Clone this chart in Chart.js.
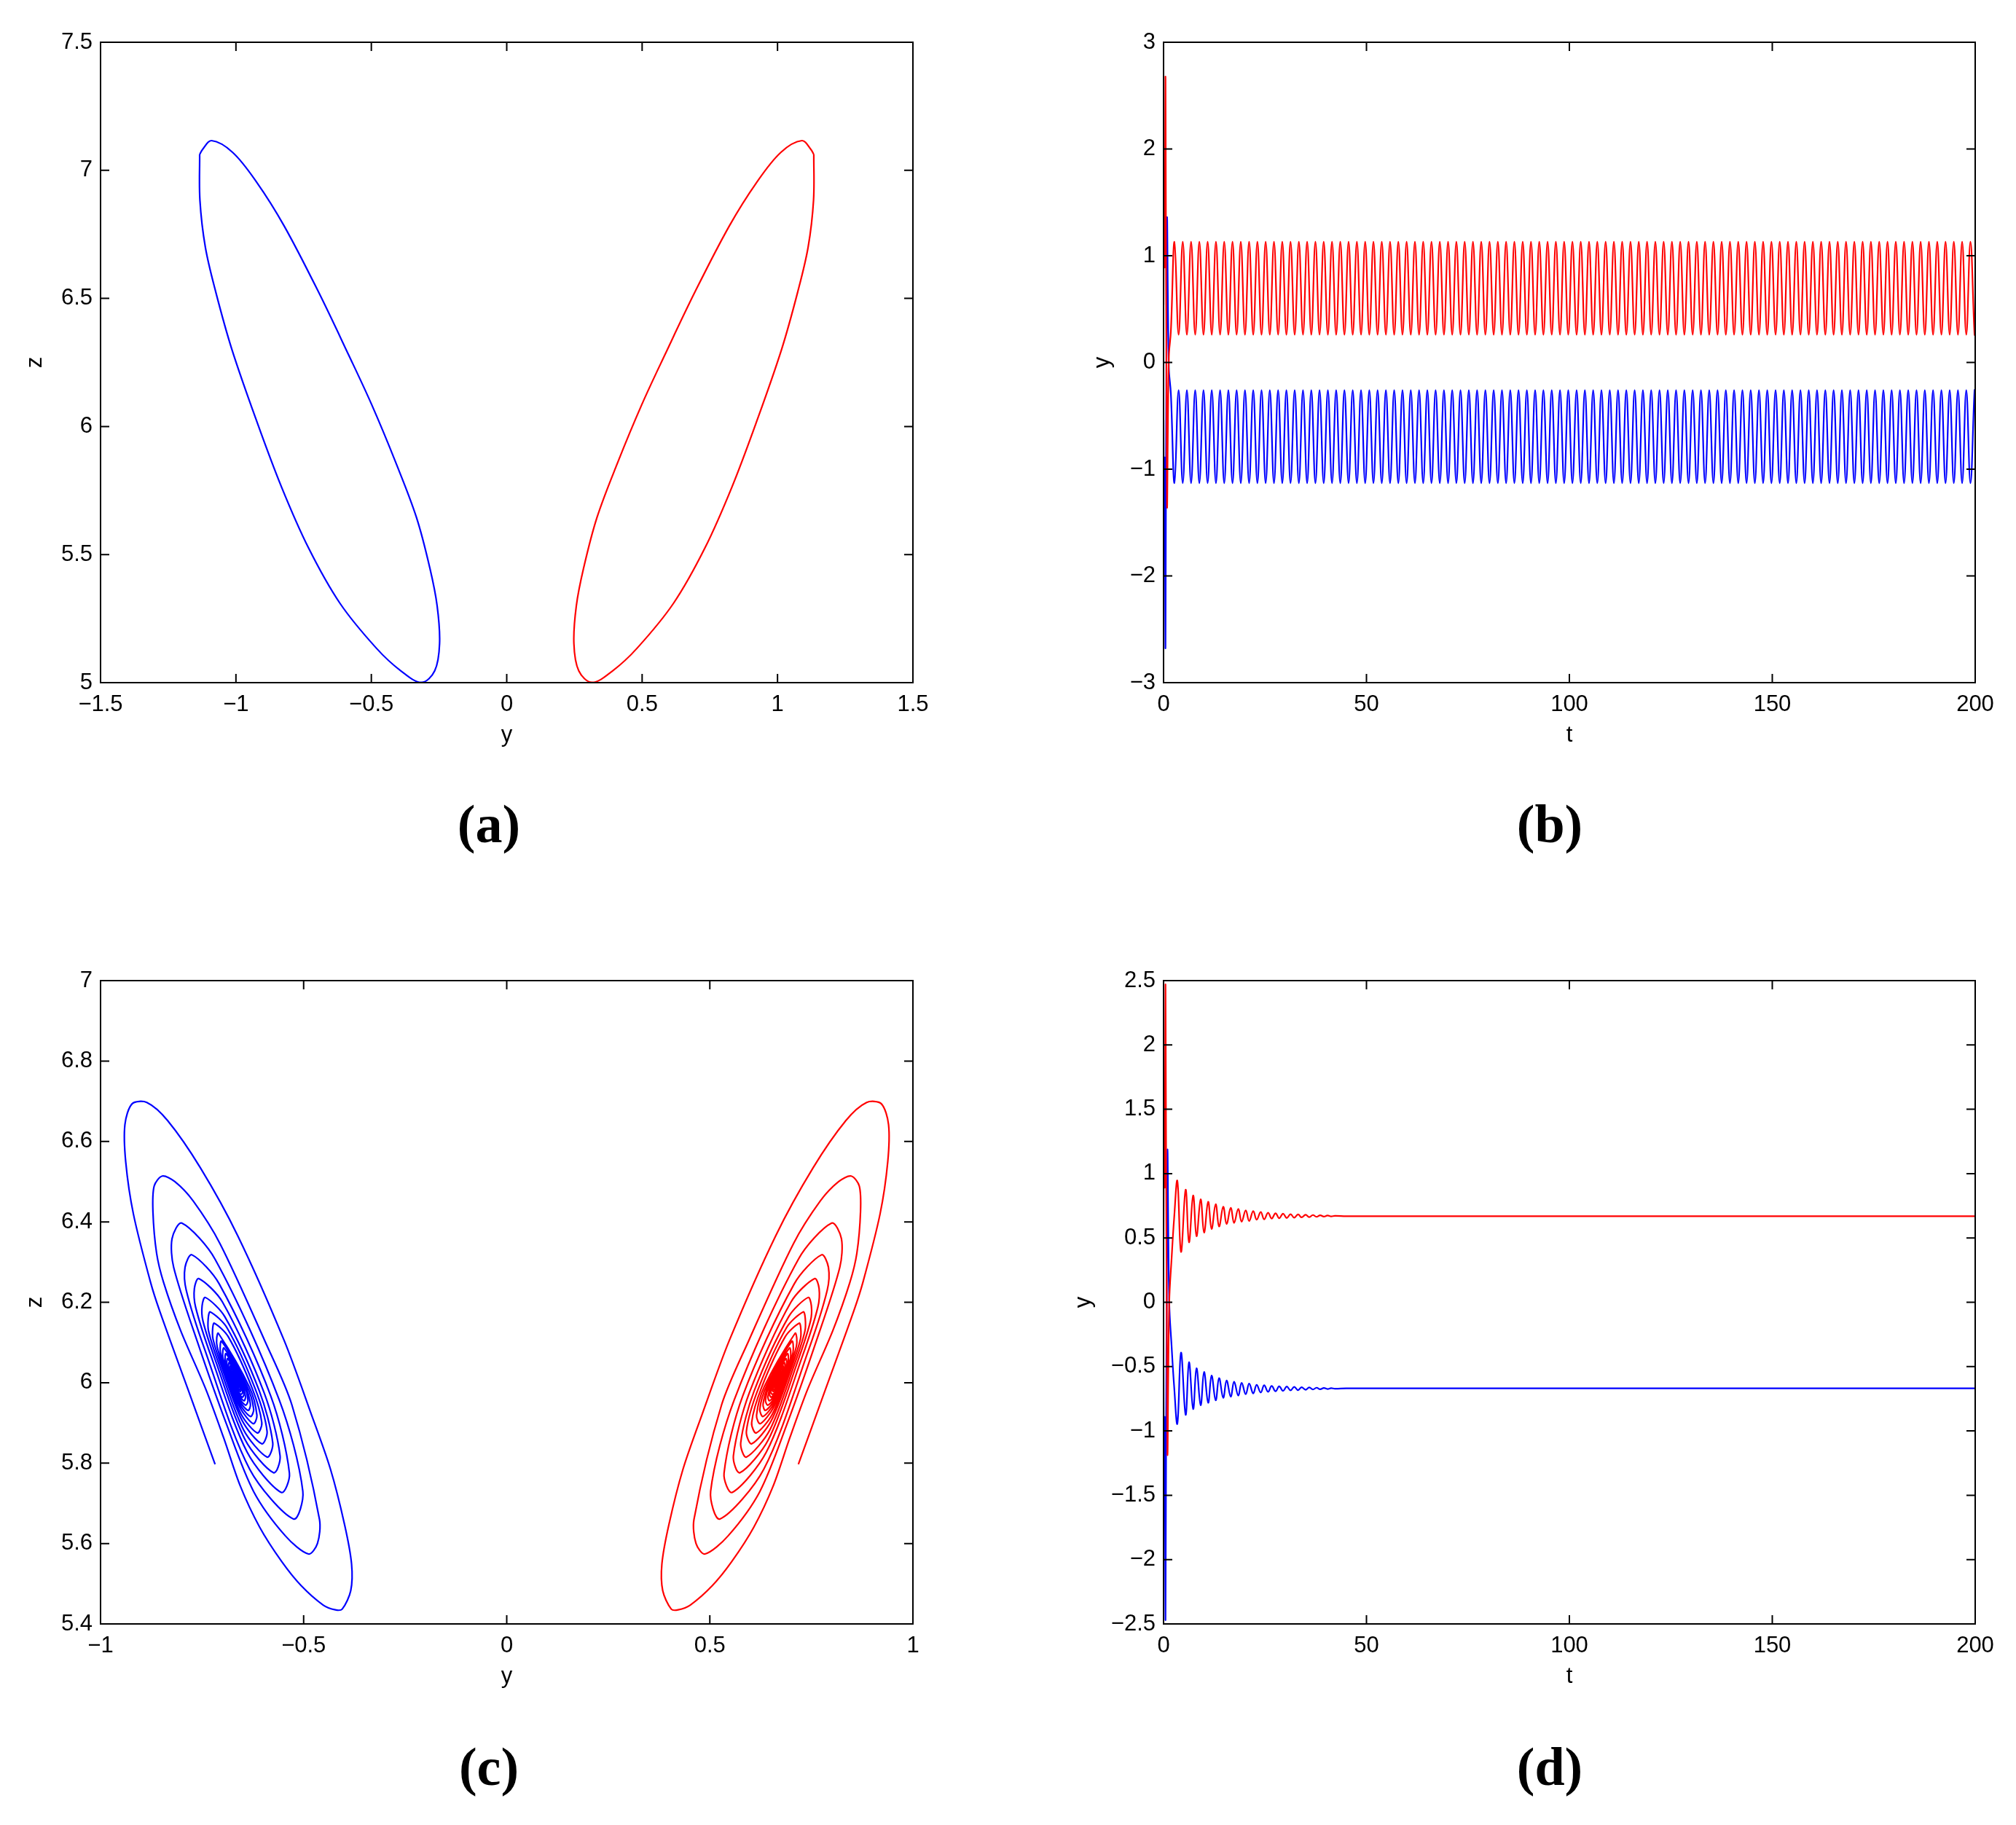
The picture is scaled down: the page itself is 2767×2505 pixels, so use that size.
<!DOCTYPE html>
<html><head><meta charset="utf-8">
<script src="https://cdn.jsdelivr.net/npm/chart.js@4.4.0/dist/chart.umd.min.js"></script>
<style>
html,body{margin:0;padding:0;background:#fff;}
#wrap{position:relative;width:2767px;height:2505px;background:#fff;overflow:hidden;}
canvas{position:absolute;left:0;top:0;}
.lab{position:absolute;font-family:"Liberation Serif","Times New Roman",serif;font-weight:bold;font-size:74px;line-height:1;transform:translate(-50%,-50%);color:#000;white-space:nowrap;}
</style></head><body>
<div id="wrap">
<canvas id="ca" width="2767" height="2505"></canvas>
<canvas id="cb" width="2767" height="2505"></canvas>
<canvas id="cc" width="2767" height="2505"></canvas>
<canvas id="cd" width="2767" height="2505"></canvas>
<div class="lab" style="left:671px;top:1131px">(a)</div>
<div class="lab" style="left:2127px;top:1131px">(b)</div>
<div class="lab" style="left:671px;top:2425px">(c)</div>
<div class="lab" style="left:2127px;top:2425px">(d)</div>
</div>
<script>
// ---------- (a) limit cycles, y-z plane ----------
const aBlueY = [-1.134,-1.133,-1.113,-1.075,-1.015,-0.922,-0.831,-0.732,-0.616,-0.481,-0.391,-0.315,-0.266,-0.248,-0.257,-0.284,-0.333,-0.410,-0.499,-0.585,-0.696,-0.822,-0.923,-1.012,-1.090,-1.123,-1.134];
const aRedY = [1.134,1.133,1.113,1.075,1.015,0.922,0.831,0.732,0.616,0.481,0.391,0.315,0.266,0.248,0.257,0.284,0.333,0.410,0.499,0.585,0.696,0.822,0.923,1.012,1.090,1.123,1.134];
const aZ = [7.062,6.883,6.700,6.527,6.301,6.017,5.762,5.526,5.310,5.134,5.046,5.001,5.046,5.153,5.300,5.448,5.644,5.860,6.086,6.282,6.527,6.783,6.953,7.070,7.116,7.082,7.062];

// ---------- (b) y(t), periodic ----------
const bT = [0,0.12,0.28,0.48,0.85,1.3,1.8,
2.69,3.71,4.73,5.75,6.78,7.80,8.82,9.84,10.86,11.88,12.91,13.93,14.95,15.97,16.99,18.01,19.03,20.06,21.08,22.10,
23.12,24.14,25.16,26.18,27.21,28.23,29.25,30.27,31.29,32.31,33.34,34.36,35.38,36.40,37.42,38.44,39.46,40.49,41.51,42.53,
43.55,44.57,45.59,46.61,47.64,48.66,49.68,50.70,51.72,52.74,53.77,54.79,55.81,56.83,57.85,58.87,59.89,60.92,61.94,62.96,
63.98,65.00,66.02,67.04,68.07,69.09,70.11,71.13,72.15,73.17,74.20,75.22,76.24,77.26,78.28,79.30,80.32,81.35,82.37,83.39,
84.41,85.43,86.45,87.47,88.50,89.52,90.54,91.56,92.58,93.60,94.63,95.65,96.67,97.69,98.71,99.73,100.75,101.78,102.80,103.82,
104.84,105.86,106.88,107.90,108.93,109.95,110.97,111.99,113.01,114.03,115.06,116.08,117.10,118.12,119.14,120.16,121.18,122.21,123.23,124.25,
125.27,126.29,127.31,128.33,129.36,130.38,131.40,132.42,133.44,134.46,135.49,136.51,137.53,138.55,139.57,140.59,141.61,142.64,143.66,144.68,
145.70,146.72,147.74,148.76,149.79,150.81,151.83,152.85,153.87,154.89,155.92,156.94,157.96,158.98,160.00,161.02,162.04,163.07,164.09,165.11,
166.13,167.15,168.17,169.19,170.22,171.24,172.26,173.28,174.30,175.32,176.35,177.37,178.39,179.41,180.43,181.45,182.47,183.50,184.52,185.54,
186.56,187.58,188.60,189.62,190.65,191.67,192.69,193.71,194.73,195.75,196.78,197.80,198.82,199.84,
200];
const bRed = [0.54,1.65,0.9,2.65,-1.32,0.05,0.29,
1.13,0.26,1.13,0.26,1.13,0.26,1.13,0.26,1.13,0.26,1.13,0.26,1.13,0.26,1.13,0.26,1.13,0.26,1.13,0.26,
1.13,0.26,1.13,0.26,1.13,0.26,1.13,0.26,1.13,0.26,1.13,0.26,1.13,0.26,1.13,0.26,1.13,0.26,1.13,0.26,
1.13,0.26,1.13,0.26,1.13,0.26,1.13,0.26,1.13,0.26,1.13,0.26,1.13,0.26,1.13,0.26,1.13,0.26,1.13,0.26,
1.13,0.26,1.13,0.26,1.13,0.26,1.13,0.26,1.13,0.26,1.13,0.26,1.13,0.26,1.13,0.26,1.13,0.26,1.13,0.26,
1.13,0.26,1.13,0.26,1.13,0.26,1.13,0.26,1.13,0.26,1.13,0.26,1.13,0.26,1.13,0.26,1.13,0.26,1.13,0.26,
1.13,0.26,1.13,0.26,1.13,0.26,1.13,0.26,1.13,0.26,1.13,0.26,1.13,0.26,1.13,0.26,1.13,0.26,1.13,0.26,
1.13,0.26,1.13,0.26,1.13,0.26,1.13,0.26,1.13,0.26,1.13,0.26,1.13,0.26,1.13,0.26,1.13,0.26,1.13,0.26,
1.13,0.26,1.13,0.26,1.13,0.26,1.13,0.26,1.13,0.26,1.13,0.26,1.13,0.26,1.13,0.26,1.13,0.26,1.13,0.26,
1.13,0.26,1.13,0.26,1.13,0.26,1.13,0.26,1.13,0.26,1.13,0.26,1.13,0.26,1.13,0.26,1.13,0.26,1.13,0.26,
1.13,0.26,1.13,0.26,1.13,0.26,1.13,0.26,1.13,0.26,1.13,0.26,1.13,0.26,
0.3];
const bBlue = [-0.54,-1.65,-0.9,-2.65,1.32,-0.05,-0.29,
-1.13,-0.26,-1.13,-0.26,-1.13,-0.26,-1.13,-0.26,-1.13,-0.26,-1.13,-0.26,-1.13,-0.26,-1.13,-0.26,-1.13,-0.26,-1.13,-0.26,
-1.13,-0.26,-1.13,-0.26,-1.13,-0.26,-1.13,-0.26,-1.13,-0.26,-1.13,-0.26,-1.13,-0.26,-1.13,-0.26,-1.13,-0.26,-1.13,-0.26,
-1.13,-0.26,-1.13,-0.26,-1.13,-0.26,-1.13,-0.26,-1.13,-0.26,-1.13,-0.26,-1.13,-0.26,-1.13,-0.26,-1.13,-0.26,-1.13,-0.26,
-1.13,-0.26,-1.13,-0.26,-1.13,-0.26,-1.13,-0.26,-1.13,-0.26,-1.13,-0.26,-1.13,-0.26,-1.13,-0.26,-1.13,-0.26,-1.13,-0.26,
-1.13,-0.26,-1.13,-0.26,-1.13,-0.26,-1.13,-0.26,-1.13,-0.26,-1.13,-0.26,-1.13,-0.26,-1.13,-0.26,-1.13,-0.26,-1.13,-0.26,
-1.13,-0.26,-1.13,-0.26,-1.13,-0.26,-1.13,-0.26,-1.13,-0.26,-1.13,-0.26,-1.13,-0.26,-1.13,-0.26,-1.13,-0.26,-1.13,-0.26,
-1.13,-0.26,-1.13,-0.26,-1.13,-0.26,-1.13,-0.26,-1.13,-0.26,-1.13,-0.26,-1.13,-0.26,-1.13,-0.26,-1.13,-0.26,-1.13,-0.26,
-1.13,-0.26,-1.13,-0.26,-1.13,-0.26,-1.13,-0.26,-1.13,-0.26,-1.13,-0.26,-1.13,-0.26,-1.13,-0.26,-1.13,-0.26,-1.13,-0.26,
-1.13,-0.26,-1.13,-0.26,-1.13,-0.26,-1.13,-0.26,-1.13,-0.26,-1.13,-0.26,-1.13,-0.26,-1.13,-0.26,-1.13,-0.26,-1.13,-0.26,
-1.13,-0.26,-1.13,-0.26,-1.13,-0.26,-1.13,-0.26,-1.13,-0.26,-1.13,-0.26,-1.13,-0.26,
-0.3];

// ---------- (c) spirals, y-z plane ----------
const cBlueY = [-0.718,-0.785,-0.854,-0.877,-0.919,-0.938,-0.940,-0.922,-0.886,-0.835,
-0.754,-0.662,-0.548,-0.482,-0.434,-0.399,-0.382,-0.384,-0.405,-0.422,
-0.452,-0.506,-0.554,-0.608,-0.656,-0.697,-0.741,-0.803,-0.845,-0.862,
-0.871,-0.868,-0.848,-0.817,-0.772,-0.706,-0.596,-0.529,-0.461,-0.466,
-0.488,-0.545,-0.623,-0.690,-0.761,-0.820,-0.824,
-0.800,-0.718,-0.560,-0.502,-0.525,-0.633,-0.743,-0.789,-0.792,
-0.775,-0.708,-0.581,-0.535,-0.555,-0.639,-0.728,-0.766,-0.769,
-0.758,-0.700,-0.597,-0.558,-0.574,-0.644,-0.717,-0.748,-0.750,
-0.742,-0.694,-0.609,-0.576,-0.590,-0.648,-0.709,-0.734,-0.735,
-0.730,-0.689,-0.619,-0.590,-0.603,-0.651,-0.702,-0.723,-0.724,
-0.720,-0.686,-0.627,-0.603,-0.614,-0.654,-0.696,-0.713,-0.714,
-0.710,-0.634,-0.615,-0.624,-0.656,-0.691,-0.705,
-0.702,-0.640,-0.623,-0.631,-0.658,-0.687,-0.699,
-0.696,-0.645,-0.631,-0.637,-0.660,-0.683,-0.693,
-0.691,-0.648,-0.637,-0.643,-0.661,-0.680,-0.689,
-0.687,-0.652,-0.643,-0.647,-0.662,-0.678,-0.685,
-0.683,-0.655,-0.647,-0.651,-0.663,-0.676,-0.681,
-0.680,-0.657,-0.650,-0.654,-0.664,-0.674,-0.679,
-0.678,-0.659,-0.654,-0.656,-0.664,-0.673,-0.676,
-0.675,-0.660,-0.656,-0.658,-0.665,-0.672,-0.674,
-0.673,-0.662,-0.659,-0.660,-0.665,-0.671,-0.673,
-0.672,-0.663,-0.661,-0.661,-0.666,-0.670,-0.672,
-0.671,-0.664,-0.662,-0.662,-0.666,-0.669,-0.670];
const cRedY = [0.718,0.785,0.854,0.877,0.919,0.938,0.940,0.922,0.886,0.835,
0.754,0.662,0.548,0.482,0.434,0.399,0.382,0.384,0.405,0.422,
0.452,0.506,0.554,0.608,0.656,0.697,0.741,0.803,0.845,0.862,
0.871,0.868,0.848,0.817,0.772,0.706,0.596,0.529,0.461,0.466,
0.488,0.545,0.623,0.690,0.761,0.820,0.824,
0.800,0.718,0.560,0.502,0.525,0.633,0.743,0.789,0.792,
0.775,0.708,0.581,0.535,0.555,0.639,0.728,0.766,0.769,
0.758,0.700,0.597,0.558,0.574,0.644,0.717,0.748,0.750,
0.742,0.694,0.609,0.576,0.590,0.648,0.709,0.734,0.735,
0.730,0.689,0.619,0.590,0.603,0.651,0.702,0.723,0.724,
0.720,0.686,0.627,0.603,0.614,0.654,0.696,0.713,0.714,
0.710,0.634,0.615,0.624,0.656,0.691,0.705,
0.702,0.640,0.623,0.631,0.658,0.687,0.699,
0.696,0.645,0.631,0.637,0.660,0.683,0.693,
0.691,0.648,0.637,0.643,0.661,0.680,0.689,
0.687,0.652,0.643,0.647,0.662,0.678,0.685,
0.683,0.655,0.647,0.651,0.663,0.676,0.681,
0.680,0.657,0.650,0.654,0.664,0.674,0.679,
0.678,0.659,0.654,0.656,0.664,0.673,0.676,
0.675,0.660,0.656,0.658,0.665,0.672,0.674,
0.673,0.662,0.659,0.660,0.665,0.671,0.673,
0.672,0.663,0.661,0.661,0.666,0.670,0.672,
0.671,0.664,0.662,0.662,0.666,0.669,0.670];
const cZ = [5.797,5.984,6.177,6.250,6.419,6.549,6.642,6.694,6.697,6.652,
6.534,6.365,6.105,5.924,5.785,5.646,5.549,5.483,5.437,5.435,
5.447,5.495,5.555,5.640,5.743,5.863,5.984,6.130,6.250,6.322,
6.425,6.489,6.514,6.500,6.452,6.346,6.105,5.945,5.660,5.600,
5.574,5.619,5.729,5.897,6.100,6.287,6.358,
6.397,6.307,5.957,5.730,5.661,5.785,6.081,6.230,6.287,
6.318,6.246,5.967,5.775,5.727,5.827,6.066,6.188,6.234,
6.259,6.201,5.974,5.818,5.776,5.858,6.055,6.154,6.191,
6.212,6.164,5.979,5.850,5.815,5.883,6.047,6.128,6.159,
6.176,6.137,5.984,5.879,5.848,5.905,6.040,6.108,6.134,
6.148,6.115,5.987,5.901,5.875,5.922,6.034,6.090,6.111,
6.123,5.990,5.919,5.898,5.937,6.029,6.076,
6.103,5.993,5.934,5.916,5.948,6.025,6.063,
6.086,5.995,5.946,5.931,5.958,6.021,6.053,
6.072,5.997,5.956,5.944,5.966,6.018,6.045,
6.060,5.998,5.965,5.955,5.973,6.016,6.037,
6.050,5.999,5.972,5.964,5.979,6.014,6.032,
6.042,6.000,5.978,5.971,5.983,6.012,6.027,
6.035,6.001,5.983,5.978,5.988,6.011,6.022,
6.029,6.002,5.987,5.983,5.991,6.009,6.019,
6.024,6.003,5.991,5.988,5.994,6.009,6.016,
6.020,6.003,5.995,5.992,5.997,6.008,6.014,
6.017,6.004,5.997,5.995,5.999,6.007,6.012];

// ---------- (d) y(t), damped ----------
const dT = [0,0.12,0.28,0.48,0.95,1.4,2.0,2.6,
3.40,4.30,5.44,6.27,7.29,8.12,9.14,9.98,10.99,11.83,12.84,13.68,14.70,15.53,16.55,17.38,18.40,19.24,20.25,21.09,22.10,22.94,23.95,24.79,25.75,26.64,27.60,28.49,29.45,30.35,31.30,32.20,33.15,
34.0,35.0,35.9,36.8,37.7,38.6,39.5,40.4,41.3,42.2,45,200];
const dRed = [0.52,1.62,0.9,2.47,-1.15,0.0,0.35,0.65,
0.943,0.391,0.875,0.466,0.830,0.513,0.800,0.542,0.781,0.570,0.762,0.589,0.743,0.608,0.734,0.617,0.725,0.626,0.715,0.632,0.709,0.642,0.702,0.645,0.696,0.651,0.692,0.653,0.689,0.655,0.685,0.657,0.683,
0.660,0.680,0.662,0.678,0.664,0.676,0.666,0.674,0.667,0.672,0.669,0.669];
const dBlue = [-0.52,-1.62,-0.9,-2.47,1.15,0.0,-0.35,-0.65,
-0.943,-0.391,-0.875,-0.466,-0.830,-0.513,-0.800,-0.542,-0.781,-0.570,-0.762,-0.589,-0.743,-0.608,-0.734,-0.617,-0.725,-0.626,-0.715,-0.632,-0.709,-0.642,-0.702,-0.645,-0.696,-0.651,-0.692,-0.653,-0.689,-0.655,-0.685,-0.657,-0.683,
-0.660,-0.680,-0.662,-0.678,-0.664,-0.676,-0.666,-0.674,-0.667,-0.672,-0.669,-0.669];

// ---------- helpers ----------
const BLUE = '#0000ff', RED = '#ff0000';
const FONT = {family: '"Liberation Sans", Arial, Helvetica, sans-serif', size: 31};
function zip(xs, ys) { const n = Math.min(xs.length, ys.length); const out = []; for (let i = 0; i < n; i++) out.push({x: xs[i], y: ys[i]}); return out; }
function fmt(v) { const s = String(Math.round(v * 1000) / 1000); return s.replace('-', '\u2212'); }
function ds(xs, ys, color, tension) {
  return {data: zip(xs, ys), showLine: true, borderColor: color, backgroundColor: color, borderWidth: 2.2, pointRadius: 0, pointHoverRadius: 0, tension: tension, fill: false};
}
const frameTicks = {
  id: 'frameTicks',
  afterDraw(chart) {
    const {ctx, chartArea: a, scales} = chart;
    const L = 12;
    ctx.save();
    ctx.strokeStyle = '#000'; ctx.lineWidth = 2;
    ctx.strokeRect(a.left, a.top, a.right - a.left, a.bottom - a.top);
    ctx.beginPath();
    scales.x.ticks.forEach(t => {
      const p = scales.x.getPixelForValue(t.value);
      ctx.moveTo(p, a.bottom); ctx.lineTo(p, a.bottom - L);
      ctx.moveTo(p, a.top); ctx.lineTo(p, a.top + L);
    });
    scales.y.ticks.forEach(t => {
      const p = scales.y.getPixelForValue(t.value);
      ctx.moveTo(a.left, p); ctx.lineTo(a.left + L, p);
      ctx.moveTo(a.right, p); ctx.lineTo(a.right - L, p);
    });
    ctx.stroke();
    ctx.restore();
  }
};
function makeChart(id, c) {
  const axis = (min, max, step, title, fit, pad) => ({
    type: 'linear', min: min, max: max,
    ticks: {stepSize: step, autoSkip: false, maxRotation: 0, minRotation: 0, padding: pad, color: '#000', font: FONT, callback: fmt},
    grid: {display: false, drawTicks: false},
    border: {display: false},
    title: {display: true, text: title, color: '#000', font: FONT, padding: 0},
    afterFit: fit
  });
  return new Chart(document.getElementById(id), {
    type: 'scatter',
    data: {datasets: c.datasets},
    options: {
      responsive: false, animation: false, devicePixelRatio: 1,
      layout: {padding: c.pad},
      plugins: {legend: {display: false}, tooltip: {enabled: false}},
      scales: {
        x: axis(c.x[0], c.x[1], c.x[2], c.xTitle, s => { s.height = c.xH; }, 12),
        y: axis(c.y[0], c.y[1], c.y[2], c.yTitle, s => { s.width = c.yW; }, 11)
      }
    },
    plugins: [frameTicks]
  });
}

makeChart('ca', {
  x: [-1.5, 1.5, 0.5], y: [5, 7.5, 0.5], xTitle: 'y', yTitle: 'z',
  pad: {left: 30, top: 58, right: 1514, bottom: 1477}, yW: 108, xH: 91,
  datasets: [ds(aRedY, aZ, RED, 0.35), ds(aBlueY, aZ, BLUE, 0.35)]
});
makeChart('cb', {
  x: [0, 200, 50], y: [-3, 3, 1], xTitle: 't', yTitle: 'y',
  pad: {left: 1495, top: 58, right: 56, bottom: 1477}, yW: 102, xH: 91,
  datasets: [ds(bT, bRed, RED, 0.4), ds(bT, bBlue, BLUE, 0.4)]
});
makeChart('cc', {
  x: [-1, 1, 0.5], y: [5.4, 7, 0.2], xTitle: 'y', yTitle: 'z',
  pad: {left: 30, top: 1346, right: 1514, bottom: 185}, yW: 108, xH: 91,
  datasets: [ds(cRedY, cZ, RED, 0.3), ds(cBlueY, cZ, BLUE, 0.3)]
});
makeChart('cd', {
  x: [0, 200, 50], y: [-2.5, 2.5, 0.5], xTitle: 't', yTitle: 'y',
  pad: {left: 1469, top: 1346, right: 56, bottom: 185}, yW: 128, xH: 91,
  datasets: [ds(dT, dRed, RED, 0.4), ds(dT, dBlue, BLUE, 0.4)]
});
</script>
</body></html>
